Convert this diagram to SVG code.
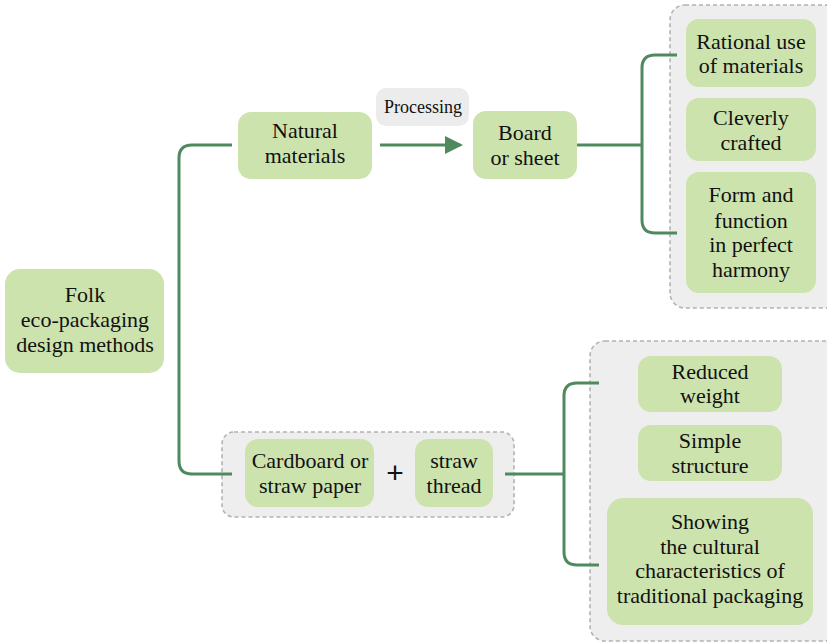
<svg xmlns="http://www.w3.org/2000/svg" width="827" height="643" viewBox="0 0 827 643">
<defs>
<style>
.node{fill:#cde3ae;}
.cont{fill:#eeeeee;stroke:#b3b3b3;stroke-width:1.6;stroke-dasharray:4 3;}
.t{font-family:'Liberation Serif','Times New Roman',Times,'DejaVu Serif',serif;font-size:22px;fill:#111;text-anchor:middle;}
.c{fill:none;stroke:#4e8a5e;stroke-width:3;}
</style>
<marker id="ah" markerWidth="6" markerHeight="6" refX="5" refY="3" orient="auto" markerUnits="strokeWidth">
<path d="M0,0 L6,3 L0,6 Z" fill="#4e8a5e"/>
</marker>
</defs>
<rect width="827" height="643" fill="#ffffff"/>
<g id="containers">
<rect class="cont" x="670" y="5" width="170" height="303" rx="15"/>
<rect class="cont" x="222" y="432" width="292" height="85" rx="12"/>
<rect class="cont" x="590" y="341" width="250" height="300" rx="15"/>
</g>
<g id="connectors">
<path class="c" d="M232,145 H192 Q179,145 179,158 V461 Q179,474 192,474 H232"/>
<path class="c" d="M380,145 H460" marker-end="url(#ah)"/>
<path class="c" d="M577,145 H642"/>
<path class="c" d="M677,55 H655 Q642,55 642,68 V220 Q642,233 655,233 H677"/>
<path class="c" d="M505,474 H564"/>
<path class="c" d="M599,383 H577 Q564,383 564,396 V552 Q564,565 577,565 H599"/>
</g>
<g id="processing">
<rect x="376" y="88" width="93" height="38" rx="10" fill="#ececec"/>
<text class="t" x="423" y="113" style="font-size:18px">Processing</text>
</g>
<g id="folk">
<rect class="node" x="5" y="269" width="159" height="104" rx="15"/>
<text class="t" x="85" y="302">Folk</text>
<text class="t" x="85" y="327">eco-packaging</text>
<text class="t" x="85" y="352">design methods</text>
</g>
<g id="natural">
<rect class="node" x="238" y="112" width="134" height="67" rx="13"/>
<text class="t" x="305" y="138">Natural</text>
<text class="t" x="305" y="163">materials</text>
</g>
<g id="board">
<rect class="node" x="473" y="111" width="104" height="68" rx="13"/>
<text class="t" x="525" y="140">Board</text>
<text class="t" x="525" y="165">or sheet</text>
</g>
<g id="rational">
<rect class="node" x="686" y="19" width="130" height="68" rx="13"/>
<text class="t" x="751" y="49">Rational use</text>
<text class="t" x="751" y="73">of materials</text>
</g>
<g id="cleverly">
<rect class="node" x="686" y="98" width="130" height="63" rx="13"/>
<text class="t" x="751" y="125">Cleverly</text>
<text class="t" x="751" y="150">crafted</text>
</g>
<g id="form">
<rect class="node" x="686" y="172" width="130" height="121" rx="13"/>
<text class="t" x="751" y="202">Form and</text>
<text class="t" x="751" y="228">function</text>
<text class="t" x="751" y="252">in perfect</text>
<text class="t" x="751" y="277">harmony</text>
</g>
<g id="cardboard">
<rect class="node" x="245" y="439" width="129" height="68" rx="13"/>
<text class="t" x="310" y="468">Cardboard or</text>
<text class="t" x="310" y="493">straw paper</text>
</g>
<g id="plus">
<text x="395" y="483" style="font-family:'Liberation Sans',Arial,sans-serif;font-size:30px;text-anchor:middle;fill:#111">+</text>
</g>
<g id="straw">
<rect class="node" x="415" y="439" width="78" height="68" rx="13"/>
<text class="t" x="454" y="468">straw</text>
<text class="t" x="454" y="493">thread</text>
</g>
<g id="reduced">
<rect class="node" x="638" y="356" width="144" height="56" rx="13"/>
<text class="t" x="710" y="379">Reduced</text>
<text class="t" x="710" y="403">weight</text>
</g>
<g id="simple">
<rect class="node" x="638" y="425" width="144" height="56" rx="13"/>
<text class="t" x="710" y="448">Simple</text>
<text class="t" x="710" y="473">structure</text>
</g>
<g id="showing">
<rect class="node" x="607" y="498" width="206" height="127" rx="16"/>
<text class="t" x="710" y="529">Showing</text>
<text class="t" x="710" y="554">the cultural</text>
<text class="t" x="710" y="578">characteristics of</text>
<text class="t" x="710" y="603">traditional packaging</text>
</g>
</svg>
